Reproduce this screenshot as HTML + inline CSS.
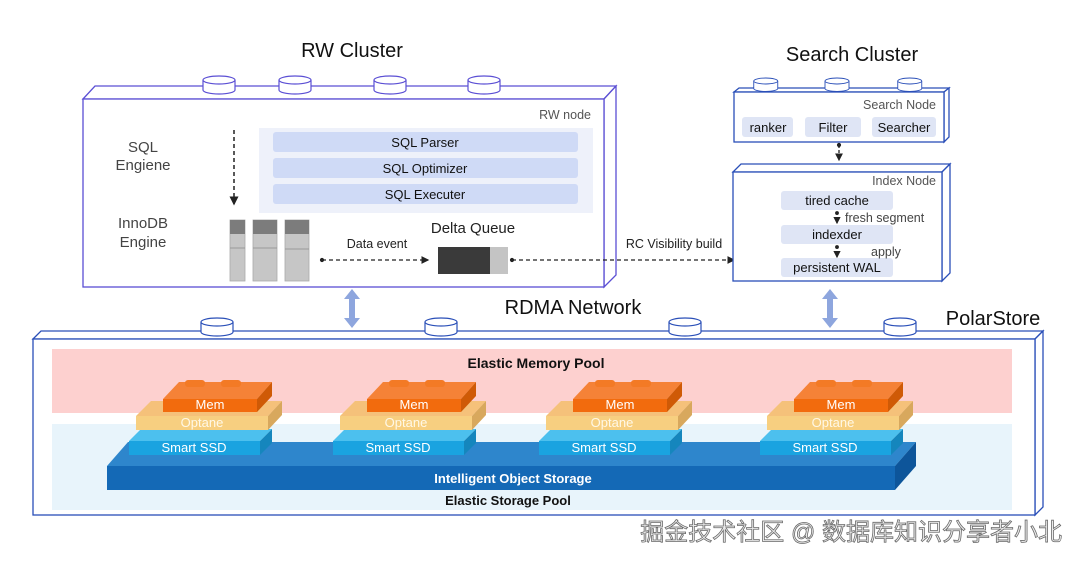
<!DOCTYPE html>
<html><head><meta charset="utf-8"><style>
html,body{margin:0;padding:0;background:#fff;}
svg{display:block;font-family:"Liberation Sans","Noto Sans CJK SC",sans-serif;}
</style></head><body>
<svg width="1080" height="562" viewBox="0 0 1080 562" xmlns="http://www.w3.org/2000/svg">
<defs>
<marker id="ah" markerWidth="6" markerHeight="6" refX="5" refY="3" orient="auto"><path d="M0,0 L6,3 L0,6 z" fill="#222"/></marker>
<marker id="dot" markerWidth="4" markerHeight="4" refX="2" refY="2"><circle cx="2" cy="2" r="1.6" fill="#222"/></marker>
<g id="cyl"><path d="M0,4 v10 a16,4 0 0 0 32,0 v-10" fill="#fff" stroke="#5b4fd4" stroke-width="1.2"/><ellipse cx="16" cy="4" rx="16" ry="4" fill="#fff" stroke="#5b4fd4" stroke-width="1.2"/></g>
<g id="cylb"><path d="M0,4 v10 a16,4 0 0 0 32,0 v-10" fill="#fff" stroke="#2a4fb8" stroke-width="1.2"/><ellipse cx="16" cy="4" rx="16" ry="4" fill="#fff" stroke="#2a4fb8" stroke-width="1.2"/></g>
<g id="stack">
<polygon points="129,441 141,429 272,429 260,441" fill="#4cc0ee"/>
<rect x="129" y="441" width="131" height="14" fill="#1aa3e0"/>
<polygon points="260,441 272,429 272,443 260,455" fill="#1586bd"/>
<text x="194" y="452" font-size="13" fill="#fff" text-anchor="middle">Smart SSD</text>
<polygon points="136,416 151,401 282,401 268,416" fill="#f5c17a"/>
<rect x="136" y="416" width="132" height="14" fill="#f7cf80"/>
<polygon points="268,416 282,401 282,415 268,430" fill="#d8a85d"/>
<text x="202" y="427" font-size="13" fill="#fff8e6" text-anchor="middle">Optane</text>
<polygon points="163,399 179,382 272,382 257,399" fill="#f58237"/>
<rect x="163" y="399" width="94" height="13" fill="#f26b0d"/>
<polygon points="257,399 272,382 272,396 257,412" fill="#cf5a06"/>
<rect x="185" y="380" width="20" height="7" rx="3" fill="#f37a25"/>
<rect x="221" y="380" width="20" height="7" rx="3" fill="#f37a25"/>
<text x="210" y="409" font-size="13" fill="#fff" text-anchor="middle">Mem</text>
</g>
</defs>

<!-- RW cluster -->
<text x="352" y="57" font-size="20" text-anchor="middle" fill="#111">RW Cluster</text>
<polygon points="83,99 95,86 616,86 604,99" fill="#fff" stroke="#5b4fd4" stroke-width="1.3"/>
<polygon points="604,99 616,86 616,275 604,287" fill="#fff" stroke="#5b4fd4" stroke-width="1.3"/>
<rect x="83" y="99" width="521" height="188" fill="#fff" stroke="#5b4fd4" stroke-width="1.3"/>
<use href="#cyl" x="203" y="76"/><use href="#cyl" x="279" y="76"/><use href="#cyl" x="374" y="76"/><use href="#cyl" x="468" y="76"/>
<text x="591" y="119" font-size="12.5" fill="#555" text-anchor="end">RW node</text>
<text x="143" y="152" font-size="15" fill="#444" text-anchor="middle">SQL</text>
<text x="143" y="170" font-size="15" fill="#444" text-anchor="middle">Engiene</text>
<text x="143" y="228" font-size="15" fill="#444" text-anchor="middle">InnoDB</text>
<text x="143" y="247" font-size="15" fill="#444" text-anchor="middle">Engine</text>
<line x1="234" y1="130" x2="234" y2="204" stroke="#222" stroke-width="1.5" stroke-dasharray="4,3" marker-end="url(#ah)"/>
<rect x="259" y="128" width="334" height="85" fill="#eef1fa"/>
<rect x="273" y="132" width="305" height="20" rx="3" fill="#cfdaf6"/>
<rect x="273" y="158" width="305" height="20" rx="3" fill="#cfdaf6"/>
<rect x="273" y="184" width="305" height="20" rx="3" fill="#cfdaf6"/>
<text x="425" y="147" font-size="13" fill="#111" text-anchor="middle">SQL Parser</text>
<text x="425" y="173" font-size="13" fill="#111" text-anchor="middle">SQL Optimizer</text>
<text x="425" y="199" font-size="13" fill="#111" text-anchor="middle">SQL Executer</text>
<g>
<rect x="230" y="220" width="15" height="61" fill="#c6c6c6" stroke="#aaa" stroke-width="0.8"/><rect x="230" y="220" width="15" height="14" fill="#7c7c7c"/><line x1="230" y1="248" x2="245" y2="248" stroke="#999"/>
<rect x="253" y="220" width="24" height="61" fill="#c6c6c6" stroke="#aaa" stroke-width="0.8"/><rect x="253" y="220" width="24" height="14" fill="#7c7c7c"/><line x1="253" y1="248" x2="277" y2="248" stroke="#999"/>
<rect x="285" y="220" width="24" height="61" fill="#c6c6c6" stroke="#aaa" stroke-width="0.8"/><rect x="285" y="220" width="24" height="14" fill="#7c7c7c"/><line x1="285" y1="249" x2="309" y2="249" stroke="#999"/>
</g>
<text x="377" y="248" font-size="12.5" fill="#222" text-anchor="middle">Data event</text>
<line x1="322" y1="260" x2="428" y2="260" stroke="#222" stroke-width="1.3" stroke-dasharray="4,3" marker-start="url(#dot)" marker-end="url(#ah)"/>
<text x="473" y="233" font-size="15" fill="#222" text-anchor="middle">Delta Queue</text>
<rect x="438" y="247" width="52" height="27" fill="#3a3a3a"/>
<rect x="490" y="247" width="18" height="27" fill="#c4c4c4"/>
<line x1="512" y1="260" x2="734" y2="260" stroke="#222" stroke-width="1.3" stroke-dasharray="4,3" marker-start="url(#dot)" marker-end="url(#ah)"/>
<text x="674" y="248" font-size="12.5" fill="#222" text-anchor="middle">RC Visibility build</text>

<!-- Search cluster -->
<text x="852" y="61" font-size="20" text-anchor="middle" fill="#111">Search Cluster</text>
<polygon points="734,92 739,88 949,88 944,92" fill="#fff" stroke="#2a4fb8" stroke-width="1.3"/>
<polygon points="944,92 949,88 949,137 944,142" fill="#fff" stroke="#2a4fb8" stroke-width="1.3"/>
<rect x="734" y="92" width="210" height="50" fill="#fff" stroke="#2a4fb8" stroke-width="1.3"/>
<g transform="scale(0.75)"><use href="#cylb" x="1005" y="104"/><use href="#cylb" x="1100" y="104"/><use href="#cylb" x="1197" y="104"/></g>
<text x="936" y="109" font-size="12.5" fill="#555" text-anchor="end">Search Node</text>
<rect x="742" y="117" width="51" height="20" rx="3" fill="#dfe5f5"/>
<rect x="805" y="117" width="56" height="20" rx="3" fill="#dfe5f5"/>
<rect x="872" y="117" width="64" height="20" rx="3" fill="#dfe5f5"/>
<text x="768" y="132" font-size="13" fill="#111" text-anchor="middle">ranker</text>
<text x="833" y="132" font-size="13" fill="#111" text-anchor="middle">Filter</text>
<text x="904" y="132" font-size="13" fill="#111" text-anchor="middle">Searcher</text>
<line x1="839" y1="145" x2="839" y2="160" stroke="#222" stroke-width="1.3" stroke-dasharray="3,2" marker-start="url(#dot)" marker-end="url(#ah)"/>
<polygon points="733,172 741,164 950,164 942,172" fill="#fff" stroke="#2a4fb8" stroke-width="1.3"/>
<polygon points="942,172 950,164 950,273 942,281" fill="#fff" stroke="#2a4fb8" stroke-width="1.3"/>
<rect x="733" y="172" width="209" height="109" fill="#fff" stroke="#2a4fb8" stroke-width="1.3"/>
<text x="936" y="185" font-size="12.5" fill="#555" text-anchor="end">Index  Node</text>
<rect x="781" y="191" width="112" height="19" rx="3" fill="#dfe5f5"/>
<rect x="781" y="225" width="112" height="19" rx="3" fill="#dfe5f5"/>
<rect x="781" y="258" width="112" height="19" rx="3" fill="#dfe5f5"/>
<text x="837" y="205" font-size="13" fill="#111" text-anchor="middle">tired cache</text>
<text x="837" y="239" font-size="13" fill="#111" text-anchor="middle">indexder</text>
<text x="837" y="272" font-size="13" fill="#111" text-anchor="middle">persistent WAL</text>
<text x="845" y="222" font-size="12.5" fill="#444">fresh segment</text>
<text x="871" y="256" font-size="12.5" fill="#444">apply</text>
<line x1="837" y1="213" x2="837" y2="223" stroke="#222" stroke-width="1.2" stroke-dasharray="2,2" marker-start="url(#dot)" marker-end="url(#ah)"/>
<line x1="837" y1="247" x2="837" y2="257" stroke="#222" stroke-width="1.2" stroke-dasharray="2,2" marker-start="url(#dot)" marker-end="url(#ah)"/>

<!-- double arrows -->
<g fill="#8ea6de">
<polygon points="352,289 344,299 349,299 349,318 344,318 352,328 360,318 355,318 355,299 360,299"/>
<polygon points="830,289 822,299 827,299 827,318 822,318 830,328 838,318 833,318 833,299 838,299"/>
</g>
<text x="573" y="314" font-size="20" text-anchor="middle" fill="#111">RDMA  Network</text>
<text x="993" y="325" font-size="20" text-anchor="middle" fill="#111">PolarStore</text>

<!-- PolarStore -->
<polygon points="33,339 41,331 1043,331 1035,339" fill="#fff" stroke="#2a4fb8" stroke-width="1.3"/>
<polygon points="1035,339 1043,331 1043,507 1035,515" fill="#fff" stroke="#2a4fb8" stroke-width="1.3"/>
<rect x="33" y="339" width="1002" height="176" fill="#fff" stroke="#2a4fb8" stroke-width="1.3"/>
<use href="#cylb" x="201" y="318"/><use href="#cylb" x="425" y="318"/><use href="#cylb" x="669" y="318"/><use href="#cylb" x="884" y="318"/>
<rect x="52" y="349" width="960" height="64" fill="#fdd0cf"/>
<text x="536" y="368" font-size="14" font-weight="bold" fill="#111" text-anchor="middle">Elastic Memory Pool</text>
<rect x="52" y="424" width="960" height="86" fill="#e8f4fb"/>
<polygon points="107,466 128,442 916,442 895,466" fill="#2e86cc"/>
<rect x="107" y="466" width="788" height="24" fill="#1469b6"/>
<polygon points="895,466 916,442 916,466 895,490" fill="#0d559a"/>
<text x="513" y="483" font-size="13" font-weight="bold" fill="#fff" text-anchor="middle">Intelligent Object Storage</text>
<text x="508" y="505" font-size="13" font-weight="bold" fill="#111" text-anchor="middle">Elastic Storage Pool</text>
<use href="#stack" x="0"/>
<use href="#stack" x="204"/>
<use href="#stack" x="410"/>
<use href="#stack" x="631"/>

<text x="1062" y="540" font-size="24" fill="#ececec" stroke="#6a6a6a" stroke-width="0.8" text-anchor="end">掘金技术社区 @ 数据库知识分享者小北</text>
</svg>
</body></html>
